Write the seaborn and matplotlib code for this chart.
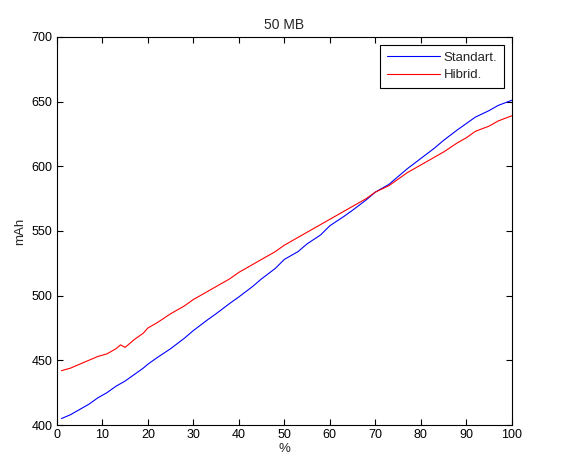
import matplotlib
matplotlib.use("Agg")
import matplotlib.pyplot as plt
import seaborn as sns
import pandas as pd

x_pct = [1, 3, 5, 7, 9, 11, 13, 14, 15, 17, 19, 20, 22, 25, 28, 30, 33, 35, 38, 40, 43, 45,
         48, 50, 53, 55, 58, 60, 63, 65, 68, 70, 73, 75, 77, 80, 83, 85, 88, 90, 92, 95, 97, 100]
standart = [405, 408, 412, 416, 421, 425, 430, 432, 434, 439, 444, 447, 452, 459, 467, 473, 481,
            486, 494, 499, 507, 513, 521, 528, 534, 540, 547, 554, 561, 566, 574, 580, 586, 592,
            598, 606, 614, 620, 628, 633, 638, 643, 647, 651]
hibrid = [442, 444, 447, 450, 453, 455, 459, 462, 460, 466, 471, 475, 479, 486, 492, 497, 503,
          507, 513, 518, 524, 528, 534, 539, 545, 549, 555, 559, 565, 569, 575, 580, 585, 590,
          595, 601, 607, 611, 618, 622, 627, 631, 635, 639]
series_names = ["Standart.", "Hibrid."]
title = "50 MB"
xlabel = "%"
ylabel = "mAh"
xticks = list(range(0, 101, 10))
yticks = list(range(400, 701, 50))

df = pd.DataFrame({
    "x": x_pct * 2,
    "y": standart + hibrid,
    "series": [series_names[0]] * len(x_pct) + [series_names[1]] * len(x_pct),
})

sns.set_theme(style="ticks")
plt.rcParams["font.family"] = ["Liberation Sans", "DejaVu Sans"]

fig = plt.figure(figsize=(5.63, 4.61), dpi=100)
ax = fig.add_axes([0.101, 0.078, 0.808, 0.842])
sns.lineplot(data=df, x="x", y="y", hue="series", palette=["#0000ff", "#ff0000"],
             linewidth=0.8, ax=ax, estimator=None, sort=False)

ax.set_xlim(0, 100)
ax.set_ylim(400, 700)
ax.set_xticks(xticks)
ax.set_yticks(yticks)
ax.tick_params(direction="in", top=True, right=True, length=4, width=0.8,
               labelsize=9, colors="black", pad=3)
for sp in ax.spines.values():
    sp.set_visible(True)
    sp.set_color("black")
    sp.set_linewidth(0.8)
ax.set_title(title, fontsize=10, pad=6)
ax.set_xlabel(xlabel, fontsize=9.5, labelpad=1)
ax.set_ylabel(ylabel, fontsize=9.5, labelpad=4)

leg = ax.legend(loc="upper right", fontsize=9.5, frameon=True, fancybox=False,
                edgecolor="black", handlelength=4.0, borderpad=0.5,
                labelspacing=0.4, handletextpad=0.3, borderaxespad=0.6)
leg.get_frame().set_linewidth(0.8)
leg.get_frame().set_alpha(1)

fig.savefig("out.png", dpi=100, facecolor="white")
